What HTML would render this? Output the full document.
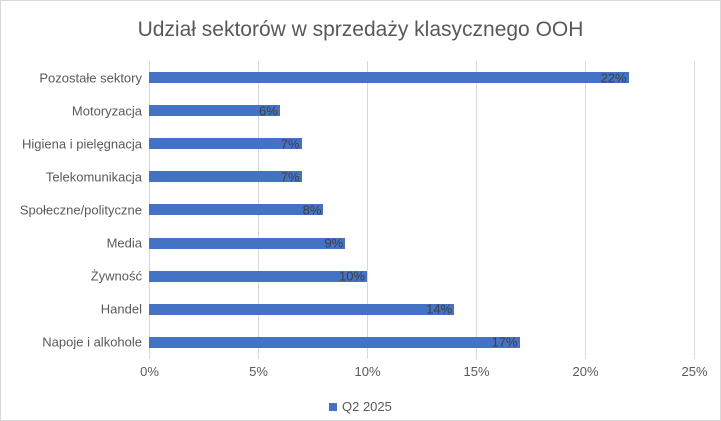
<!DOCTYPE html><html><head><style>
body{margin:0;background:#fff}
#c{position:relative;width:719px;height:419px;border:1px solid #d9d9d9;background:#fff;font-family:"Liberation Sans",sans-serif;overflow:hidden}
.t{position:absolute;left:0;width:719px;top:17px;text-align:center;font-size:21px;color:#595959}
.g{position:absolute;top:60px;height:298px;width:1px;background:#d9d9d9}
.b{position:absolute;height:11px;background:#4472c4;left:148px}
.l{position:absolute;right:578px;font-size:13px;color:#595959;white-space:nowrap;transform:translateY(-50%)}
.v{position:absolute;font-size:13px;color:#404040;transform:translate(-100%,-50%)}
.x{position:absolute;top:363px;font-size:13px;color:#595959;transform:translateX(-50%)}
</style></head><body><div id="c">
<div class="t">Udział sektorów w sprzedaży klasycznego OOH</div>
<div class="g" style="left:148px"></div><div class="g" style="left:257px"></div><div class="g" style="left:366px"></div><div class="g" style="left:475px"></div><div class="g" style="left:584px"></div><div class="g" style="left:693px"></div>
<script>
var d=[["Pozostałe sektory",22],["Motoryzacja",6],["Higiena i pielęgnacja",7],["Telekomunikacja",7],["Społeczne/polityczne",8],["Media",9],["Żywność",10],["Handel",14],["Napoje i alkohole",17]];
var h="";d.forEach(function(r,i){var y=76.5+i*33.1,w=r[1]*21.8;
h+='<div class="b" style="top:'+(y-5.5)+'px;width:'+w+'px"></div><div class="l" style="top:'+y+'px">'+r[0]+'</div><div class="v" style="left:'+(148+w-2)+'px;top:'+y+'px">'+r[1]+'%</div>';});
[0,5,10,15,20,25].forEach(function(p){h+='<div class="x" style="left:'+(148.5+p*21.8)+'px">'+p+'%</div>';});
document.write(h);
</script>
<div style="position:absolute;left:328px;top:402px;width:8px;height:8px;background:#4472c4"></div>
<div style="position:absolute;left:341px;top:398px;font-size:13px;color:#595959">Q2 2025</div>
</div></body></html>
